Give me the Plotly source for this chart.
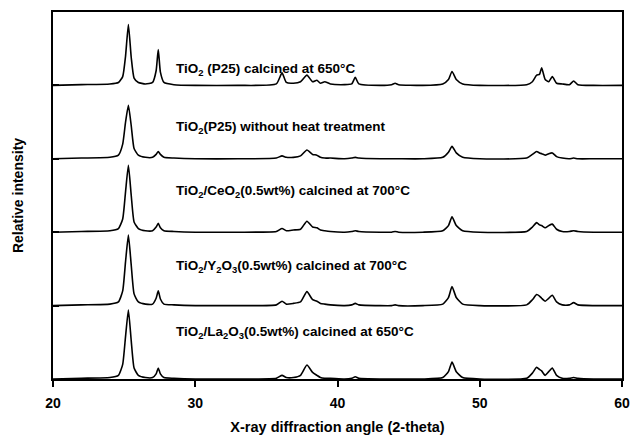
import plotly.graph_objects as go

# 2-theta sample points (degrees)
two_theta = [20.0, 22.0, 24.0, 24.6, 24.9, 25.1, 25.3, 25.5, 25.7, 26.0, 26.5, 27.0, 27.25, 27.4, 27.55,
             27.8, 28.5, 30.0, 33.0, 35.7, 36.1, 36.4, 36.9, 37.4, 37.85, 38.25, 38.55, 38.8, 39.1, 39.5,
             40.5, 41.0, 41.25, 41.5, 43.0, 43.8, 44.05, 44.3, 46.0, 47.4, 47.8, 48.05, 48.35, 48.8, 50.0,
             53.3, 53.7, 54.0, 54.2, 54.35, 54.6, 54.85, 55.1, 55.4, 55.8, 56.3, 56.6, 56.9, 58.0, 60.0]

# relative intensities (fraction of one panel height)
p25_650 = [0.0, 0.01, 0.02, 0.04, 0.12, 0.40, 0.83, 0.38, 0.10, 0.04, 0.02, 0.04, 0.20, 0.49, 0.18,
           0.04, 0.01, 0.0, 0.0, 0.02, 0.17, 0.04, 0.03, 0.05, 0.14, 0.05, 0.07, 0.03, 0.05, 0.02,
           0.01, 0.02, 0.11, 0.02, 0.0, 0.01, 0.03, 0.01, 0.0, 0.02, 0.08, 0.19, 0.08, 0.02, 0.0,
           0.01, 0.05, 0.14, 0.15, 0.24, 0.08, 0.05, 0.12, 0.03, 0.02, 0.01, 0.06, 0.01, 0.0, 0.0]
p25_raw = [0.0, 0.01, 0.02, 0.05, 0.20, 0.50, 0.73, 0.45, 0.14, 0.05, 0.02, 0.02, 0.06, 0.10, 0.06,
           0.02, 0.01, 0.0, 0.0, 0.01, 0.04, 0.02, 0.02, 0.04, 0.12, 0.06, 0.05, 0.02, 0.01, 0.01,
           0.0, 0.01, 0.02, 0.01, 0.0, 0.0, 0.0, 0.0, 0.0, 0.02, 0.09, 0.17, 0.08, 0.02, 0.0,
           0.01, 0.06, 0.10, 0.08, 0.07, 0.05, 0.07, 0.08, 0.03, 0.01, 0.0, 0.01, 0.0, 0.0, 0.0]
ceo2_700 = [0.0, 0.01, 0.02, 0.05, 0.18, 0.55, 0.91, 0.50, 0.14, 0.05, 0.02, 0.02, 0.07, 0.12, 0.06,
            0.02, 0.01, 0.0, 0.0, 0.01, 0.05, 0.02, 0.03, 0.04, 0.15, 0.07, 0.06, 0.03, 0.02, 0.01,
            0.0, 0.01, 0.02, 0.01, 0.0, 0.0, 0.01, 0.0, 0.0, 0.02, 0.09, 0.21, 0.09, 0.02, 0.0,
            0.01, 0.07, 0.13, 0.10, 0.09, 0.06, 0.09, 0.11, 0.04, 0.01, 0.01, 0.02, 0.01, 0.0, 0.0]
y2o3_700 = [0.0, 0.01, 0.02, 0.05, 0.20, 0.60, 0.96, 0.55, 0.16, 0.05, 0.02, 0.02, 0.10, 0.20, 0.09,
            0.02, 0.01, 0.0, 0.0, 0.01, 0.06, 0.02, 0.03, 0.05, 0.19, 0.08, 0.06, 0.03, 0.02, 0.01,
            0.0, 0.01, 0.03, 0.01, 0.0, 0.0, 0.01, 0.0, 0.0, 0.02, 0.11, 0.26, 0.11, 0.02, 0.0,
            0.01, 0.08, 0.15, 0.13, 0.10, 0.06, 0.10, 0.14, 0.05, 0.01, 0.01, 0.04, 0.01, 0.0, 0.0]
la2o3_650 = [0.0, 0.01, 0.02, 0.05, 0.20, 0.58, 0.94, 0.52, 0.15, 0.05, 0.02, 0.02, 0.07, 0.15, 0.07,
             0.02, 0.01, 0.0, 0.0, 0.01, 0.05, 0.02, 0.02, 0.05, 0.19, 0.09, 0.05, 0.02, 0.01, 0.01,
             0.0, 0.01, 0.03, 0.01, 0.0, 0.0, 0.0, 0.0, 0.0, 0.02, 0.10, 0.23, 0.10, 0.02, 0.0,
             0.01, 0.08, 0.16, 0.13, 0.11, 0.05, 0.10, 0.15, 0.05, 0.01, 0.01, 0.02, 0.01, 0.0, 0.0]

series = [p25_650, p25_raw, ceo2_700, y2o3_700, la2o3_650]
offsets = [4, 3, 2, 1, 0]
labels = ["TiO<sub>2</sub> (P25) calcined at 650°C",
          "TiO<sub>2</sub>(P25) without heat treatment",
          "TiO<sub>2</sub>/CeO<sub>2</sub>(0.5wt%) calcined at 700°C",
          "TiO<sub>2</sub>/Y<sub>2</sub>O<sub>3</sub>(0.5wt%) calcined at 700°C",
          "TiO<sub>2</sub>/La<sub>2</sub>O<sub>3</sub>(0.5wt%) calcined at 650°C"]
label_x = 28.5
label_y = [4.21, 3.42, 2.56, 1.53, 0.63]

x_ticks = [20, 30, 40, 50, 60]

fig = go.Figure()
for vals, off in zip(series, offsets):
    fig.add_trace(go.Scatter(
        x=two_theta, y=[v + off for v in vals], mode="lines",
        line=dict(color="black", width=1.6, shape="spline", smoothing=0.5),
        showlegend=False, hoverinfo="skip"))

for txt, ly in zip(labels, label_y):
    fig.add_annotation(x=label_x, y=ly, text="<b>" + txt + "</b>", showarrow=False,
                       xanchor="left", yanchor="middle",
                       font=dict(family="Liberation Sans, Arial, sans-serif", size=13.5, color="black"))

font = dict(family="Liberation Sans, Arial, sans-serif", size=14, color="black")
fig.update_layout(
    width=633, height=437,
    margin=dict(l=53, r=11, t=12, b=58),
    plot_bgcolor="white", paper_bgcolor="white",
    font=font,
    xaxis=dict(range=[20, 60], tickvals=x_ticks, ticktext=["<b>%d</b>" % t for t in x_ticks],
               showgrid=False, zeroline=False, showline=True, linecolor="black", linewidth=2,
               mirror=True, ticks="outside", ticklen=6, tickwidth=1.5, tickcolor="black",
               ticklabelstandoff=4, ticklabeloverflow="allow", automargin=False,
               title=dict(text="<b>X-ray diffraction angle (2-theta)</b>",
                          font=dict(family="Liberation Sans, Arial, sans-serif", size=14.5, color="black"),
                          standoff=12)),
    yaxis=dict(range=[0, 5], tickvals=[1, 2, 3, 4], showticklabels=False,
               showgrid=False, zeroline=False, showline=True, linecolor="black", linewidth=2,
               mirror=True, ticks="inside", ticklen=6, tickwidth=1.5, tickcolor="black",
               automargin=False,
               title=dict(text="<b>Relative intensity</b>", font=font, standoff=24)),
)

fig.write_html("out.html", config={"displayModeBar": False},
               post_script="document.body.style.margin='0';document.body.style.overflow='hidden';")
